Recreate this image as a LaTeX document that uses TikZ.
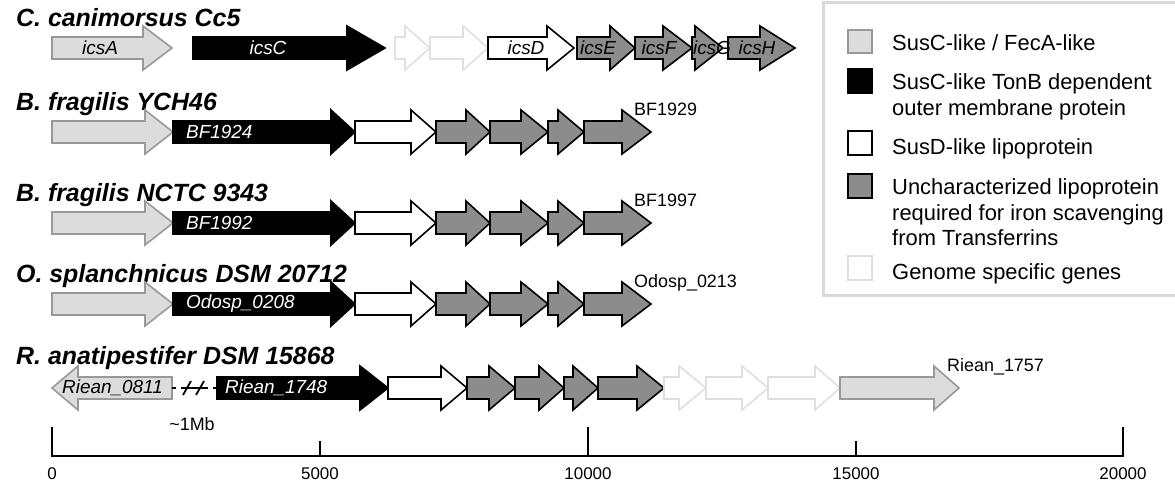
\documentclass[tikz,border=0pt]{standalone}
\usepackage{fontspec}
\setmainfont{Liberation Sans}
\definecolor{susclight}{HTML}{DCDCDC}
\definecolor{susclightrim}{HTML}{999999}
\definecolor{lipogray}{HTML}{8C8C8C}
\definecolor{faintrim}{HTML}{E0E0E0}
\definecolor{legendrim}{HTML}{D9D9D9}
% gene arrow: #1 style, #2 start x, #3 head base x, #4 tip x, #5 centre y
\newcommand\genearr[5]{%
  \draw[#1] (#2,#5-11) -- (#3,#5-11) -- (#3,#5-22) -- (#4,#5)
    -- (#3,#5+22) -- (#3,#5+11) -- (#2,#5+11) -- cycle;}
\tikzset{
  gfeca/.style={line width=1.6bp, draw=susclightrim, fill=susclight, line join=miter},
  gsusc/.style={line width=1.6bp, draw=black, fill=black, line join=miter},
  gsusd/.style={line width=1.6bp, draw=black, fill=white, line join=miter},
  glipo/.style={line width=1.6bp, draw=black, fill=lipogray, line join=miter},
  gspec/.style={line width=1.6bp, draw=faintrim, fill=white, line join=miter},
  species/.style={anchor=base west, inner sep=0pt, font=\fontsize{25}{30}\selectfont\bfseries\itshape},
  glabel/.style={inner sep=0pt, font=\fontsize{19}{22}\selectfont\itshape},
  wlabel/.style={glabel, text=white},
  endlabel/.style={anchor=base west, inner sep=0pt, font=\fontsize{18}{22}\selectfont},
  legtext/.style={anchor=base west, inner sep=0pt, font=\fontsize{22}{26}\selectfont},
  legsq/.style={line width=2bp},
  axlabel/.style={anchor=base, inner sep=0pt, font=\fontsize{17}{20}\selectfont},
}
\begin{document}
\begin{tikzpicture}[x=1bp,y=-1bp]
\useasboundingbox[fill=white] (0,0) rectangle (1175,486);

% ---------------- C. canimorsus Cc5
\def\ya{48}
\node[species] (t1) at (16,\ya-21) {C. canimorsus Cc5};
\genearr{gfeca}{52}{143}{172}{\ya}
\genearr{gsusc}{193}{347}{385}{\ya}
\genearr{gspec}{395}{405}{430}{\ya}
\genearr{gspec}{430}{463}{488}{\ya}
\genearr{gsusd}{488}{547}{574}{\ya}
\genearr{glipo}{577}{610}{635}{\ya}
\genearr{glipo}{635}{663}{692}{\ya}
\genearr{glipo}{692}{695}{723}{\ya}
\genearr{glipo}{728}{760}{795}{\ya}
\node[glabel] (icsA) at (100,\ya) {icsA};
\node[wlabel] (icsC) at (268,\ya) {icsC};
\node[glabel] (icsD) at (526,\ya) {icsD};
\node[glabel] (icsE) at (598,\ya) {icsE};
\node[glabel] (icsF) at (659,\ya) {icsF};
\node[glabel] (icsG) at (712,\ya) {icsG};
\node[glabel] (icsH) at (757,\ya) {icsH};

% ---------------- three rows with the same locus layout
\foreach \yy/\nm/\first/\last/\tag in
   {132/B. fragilis YCH46/BF1924/BF1929/b,
    223/B. fragilis NCTC 9343/BF1992/BF1997/c,
    304/O. splanchnicus DSM 20712/Odosp\_0208/Odosp\_0213/d}{
  \node[species] (t\tag) at (16,\yy-21) {\nm};
  \genearr{gfeca}{52}{145}{173}{\yy}
  \genearr{gsusc}{173}{331}{355}{\yy}
  \genearr{gsusd}{355}{411}{436}{\yy}
  \genearr{glipo}{436}{466}{490}{\yy}
  \genearr{glipo}{490}{521}{548}{\yy}
  \genearr{glipo}{548}{558}{584}{\yy}
  \genearr{glipo}{584}{622}{651}{\yy}
  \node[wlabel, anchor=west] (f\tag) at (186,\yy) {\first};
  \node[endlabel] (l\tag) at (634,\yy-16) {\last};
}

% ---------------- R. anatipestifer DSM 15868
\def\ye{388}
\node[species] (t5) at (16,\ye-23) {R. anatipestifer DSM 15868};
\genearr{gfeca}{172}{78}{52}{\ye}
\genearr{gsusc}{217}{360}{388}{\ye}
\genearr{gsusd}{388}{441}{467}{\ye}
\genearr{glipo}{467}{489}{515}{\ye}
\genearr{glipo}{515}{539}{564}{\ye}
\genearr{glipo}{564}{573}{598}{\ye}
\genearr{glipo}{598}{637}{664}{\ye}
\genearr{gspec}{664}{679}{706}{\ye}
\genearr{gspec}{706}{742}{768}{\ye}
\genearr{gspec}{768}{815}{840}{\ye}
\genearr{gfeca}{840}{934}{959}{\ye}
\node[glabel, anchor=west] (r0811) at (62,\ye) {Riean\_0811};
\node[wlabel, anchor=west] (r1748) at (225,\ye) {Riean\_1748};
\node[endlabel] (r1757) at (947,\ye-16) {Riean\_1757};
% genome break between the two loci
\coordinate (bka) at (172,\ye);
\coordinate (bkb) at (217,\ye);
\draw[line width=1.2bp] (bka) -- ++(4,0);
\draw[line width=1.2bp] (181,\ye) -- (208,\ye);
\draw[line width=1.8bp] (183,\ye+7) -- (191,\ye-7);
\draw[line width=1.8bp] (196,\ye+7) -- (204,\ye-7);
\draw[line width=1.2bp] (bkb) -- ++(-4,0);
\node[endlabel, anchor=base] (gap) at (192,\ye+42) {\textasciitilde1Mb};

% ---------------- scale bar
\coordinate (a0) at (52,456);
\coordinate (a20) at (1123,456);
\draw[line width=1.6bp] (52,427) -- (a0) -- (a20) -- (1123,427);
\draw[line width=1.6bp] (588,427) -- (588,456);
\draw[line width=1.6bp] (320,441) -- (320,456);
\draw[line width=1.6bp] (856,441) -- (856,456);
\node[axlabel] (s0) at (52,479) {0};
\node[axlabel] (s5) at (320,479) {5000};
\node[axlabel] (s10) at (588,479) {10000};
\node[axlabel] (s15) at (856,479) {15000};
\node[axlabel] (s20) at (1123,479) {20000};

% ---------------- legend
\draw[line width=3bp, draw=legendrim] (823,3) rectangle (1195,296);
\draw[legsq, draw=susclightrim, fill=susclight] (848,30) rectangle (872,53);
\draw[legsq, draw=black, fill=black] (848,69) rectangle (872,93);
\draw[legsq, draw=black, fill=white] (848,131) rectangle (872,155);
\draw[legsq, draw=black, fill=lipogray] (848,174) rectangle (872,198);
\draw[legsq, draw=faintrim, fill=white] (848,256) rectangle (872,280);
\node[legtext] (k1) at (892,51) {SusC-like / FecA-like};
\node[legtext] (k2) at (892,90) {SusC-like TonB dependent};
\node[legtext] (k2b) at (892,116) {outer membrane protein};
\node[legtext] (k3) at (892,155) {SusD-like lipoprotein};
\node[legtext] (k4) at (892,195) {Uncharacterized lipoprotein};
\node[legtext] (k4b) at (892,221) {required for iron scavenging};
\node[legtext] (k4c) at (892,246) {from Transferrins};
\node[legtext] (k5) at (892,280) {Genome specific genes};
\end{tikzpicture}
\end{document}
